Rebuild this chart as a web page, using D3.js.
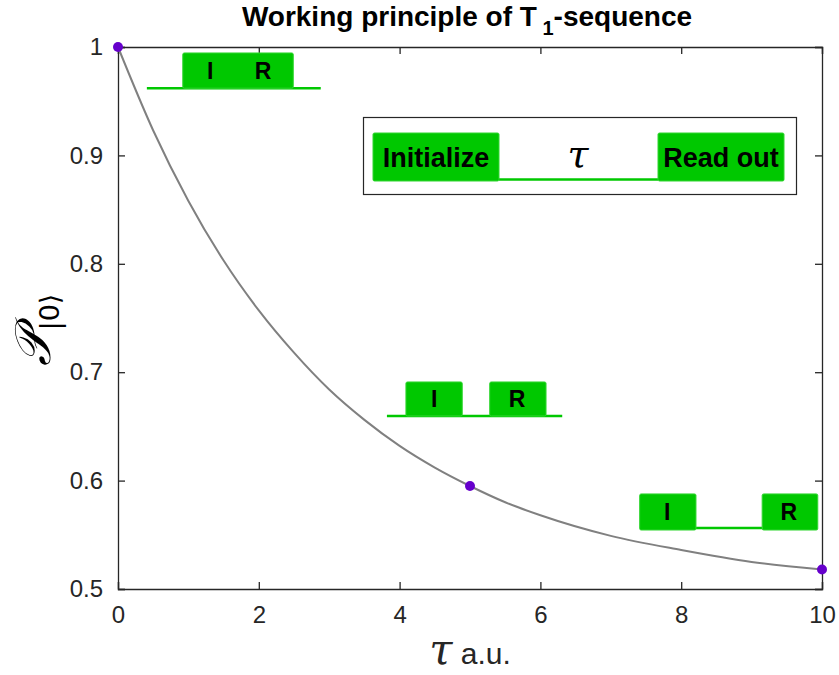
<!DOCTYPE html>
<html>
<head>
<meta charset="utf-8">
<script src="https://cdn.jsdelivr.net/npm/d3@7/dist/d3.min.js"></script>
<style>
  html, body { margin: 0; padding: 0; background: #fff; }
  svg { display: block; }
</style>
</head>
<body>
<svg id="chart" width="839" height="675"></svg>
<script>
// Decay of the ground-state population with waiting time tau
const tau = [0, 0.5, 1, 1.5, 2, 2.5, 3, 3.5, 4, 4.5, 5, 5.5, 6, 7, 8, 9, 10];
const population = [1.0, 0.923, 0.858, 0.803, 0.757, 0.718, 0.684, 0.656, 0.632, 0.612, 0.595, 0.580, 0.568, 0.549, 0.536, 0.525, 0.518];

// Highlighted measurement points
const markTau = [0, 5, 10];
const markPop = [1.0, 0.595, 0.518];

const xTicks = [0, 2, 4, 6, 8, 10];
const yTicks = [0.5, 0.6, 0.7, 0.8, 0.9, 1];

// Pulse sequence sketches (data units): baseline wire and the I / R pulses
const wires = [
  [0.41, 2.88, 0.962],
  [3.82, 6.31, 0.6596],
  [8.21, 9.15, 0.5563]
];
const pulses = [
  [0.92, 2.49, 0.962, 0.9945],
  [4.09, 4.89, 0.6596, 0.691],
  [5.28, 6.08, 0.6596, 0.691],
  [7.41, 8.21, 0.5544, 0.5877],
  [9.15, 9.94, 0.5544, 0.5877]
];
const pulseLabels = [
  ["I", 1.31, 0.978], ["R", 2.06, 0.978],
  ["I", 4.49, 0.675], ["R", 5.67, 0.675],
  ["I", 7.80, 0.571], ["R", 9.53, 0.571]
];

const svg = d3.select("#chart");
const margin = { left: 118, right: 17, top: 47, bottom: 86 };
const W = 839, H = 675;
const x = d3.scaleLinear().domain([0, 10]).range([margin.left, W - margin.right]);
const y = d3.scaleLinear().domain([0.5, 1]).range([H - margin.bottom, margin.top]);

const axisColor = "#262626";
const font = "'Liberation Sans', Arial, sans-serif";

// Axes with inward ticks on all four sides
const gx = svg.append("g").attr("transform", `translate(0,${y(0.5)})`)
  .call(d3.axisBottom(x).tickValues(xTicks).tickSize(-7).tickPadding(17).tickFormat(d3.format("d")));
const gxt = svg.append("g").attr("transform", `translate(0,${y(1)})`)
  .call(d3.axisTop(x).tickValues(xTicks).tickSize(-7).tickFormat(""));
const gy = svg.append("g").attr("transform", `translate(${x(0)},0)`)
  .call(d3.axisLeft(y).tickValues(yTicks).tickSize(-7).tickPadding(15).tickFormat(d => d === 1 ? "1" : d3.format(".1f")(d)));
const gyr = svg.append("g").attr("transform", `translate(${x(10)},0)`)
  .call(d3.axisRight(y).tickValues(yTicks).tickSize(-7).tickFormat(""));

[gx, gxt, gy, gyr].forEach(g => {
  g.select(".domain").attr("stroke", axisColor).attr("stroke-width", 1.3);
  g.selectAll(".tick line").attr("stroke", axisColor).attr("stroke-width", 1.3);
  g.selectAll(".tick text").attr("fill", axisColor).style("font-family", font).style("font-size", "24px");
});

// Pulse sketches
const green = "#00c800";
svg.append("g").selectAll("line").data(wires).join("line")
  .attr("x1", d => x(d[0])).attr("x2", d => x(d[1]))
  .attr("y1", d => y(d[2])).attr("y2", d => y(d[2]))
  .attr("stroke", green).attr("stroke-width", 2.5);
svg.append("g").selectAll("rect").data(pulses).join("rect")
  .attr("x", d => x(d[0])).attr("width", d => x(d[1]) - x(d[0]))
  .attr("y", d => y(d[3])).attr("height", d => y(d[2]) - y(d[3]))
  .attr("rx", 1.5)
  .attr("fill", green).attr("stroke", "#33d633").attr("stroke-width", 1);
svg.append("g").selectAll("text").data(pulseLabels).join("text")
  .attr("x", d => x(d[1])).attr("y", d => y(d[2]))
  .attr("text-anchor", "middle").attr("dominant-baseline", "central")
  .style("font-family", font).style("font-weight", "bold").style("font-size", "23px")
  .text(d => d[0]);

// Legend panel describing the sequence
const lg = svg.append("g");
lg.append("rect").attr("x", 363.5).attr("y", 117.5).attr("width", 433).attr("height", 77)
  .attr("fill", "#fff").attr("stroke", axisColor).attr("stroke-width", 1.2);
lg.append("line").attr("x1", 499).attr("x2", 658).attr("y1", 179.5).attr("y2", 179.5)
  .attr("stroke", green).attr("stroke-width", 2.5);
lg.append("rect").attr("x", 373).attr("y", 133).attr("width", 126).attr("height", 48).attr("rx", 1.5)
  .attr("fill", green).attr("stroke", "#33d633");
lg.append("rect").attr("x", 658).attr("y", 133).attr("width", 126).attr("height", 48).attr("rx", 1.5)
  .attr("fill", green).attr("stroke", "#33d633");
lg.append("text").attr("x", 436).attr("y", 158).attr("text-anchor", "middle").attr("dominant-baseline", "central")
  .style("font-family", font).style("font-weight", "bold").style("font-size", "27px").text("Initialize");
lg.append("text").attr("x", 721).attr("y", 158).attr("text-anchor", "middle").attr("dominant-baseline", "central")
  .style("font-family", font).style("font-weight", "bold").style("font-size", "27px").text("Read out");
lg.append("text").attr("x", 578).attr("y", 167).attr("text-anchor", "middle")
  .style("font-family", "'DejaVu Serif', serif").style("font-style", "italic").style("font-size", "38px").text("τ");

// Decay curve
svg.append("path").datum(tau.map((t, i) => [t, population[i]]))
  .attr("d", d3.line().x(d => x(d[0])).y(d => y(d[1])).curve(d3.curveMonotoneX))
  .attr("fill", "none").attr("stroke", "#808080").attr("stroke-width", 2);

svg.append("g").selectAll("circle").data(markTau).join("circle")
  .attr("cx", d => x(d)).attr("cy", (d, i) => y(markPop[i])).attr("r", 5)
  .attr("fill", "#6600cc");

// Title
const title = svg.append("text").attr("x", 467).attr("y", 26).attr("text-anchor", "middle")
  .style("font-family", font).style("font-weight", "bold").style("font-size", "28px");
title.append("tspan").text("Working principle of T");
title.append("tspan").attr("dy", 9).style("font-size", "20px").text(" 1");
title.append("tspan").attr("dy", -9).text("-sequence");

// Axis labels
const xl = svg.append("text").attr("x", 470).attr("y", 664).attr("text-anchor", "middle").attr("fill", axisColor);
xl.append("tspan").style("font-family", "'DejaVu Serif', serif").style("font-style", "italic").style("font-size", "42px").text("τ");
xl.append("tspan").style("font-family", font).style("font-size", "30px").text(" a.u.");

const yl = svg.append("text").attr("transform", "translate(50,330) rotate(-90)").attr("text-anchor", "middle").attr("fill", "#000");
yl.append("tspan").style("font-family", "'DejaVu Serif', serif").style("font-style", "italic").style("font-size", "50px").text("𝒫");
yl.append("tspan").attr("dy", 9).style("font-family", "'DejaVu Sans', sans-serif").style("font-size", "27px").text("|0⟩");
</script>
</body>
</html>
